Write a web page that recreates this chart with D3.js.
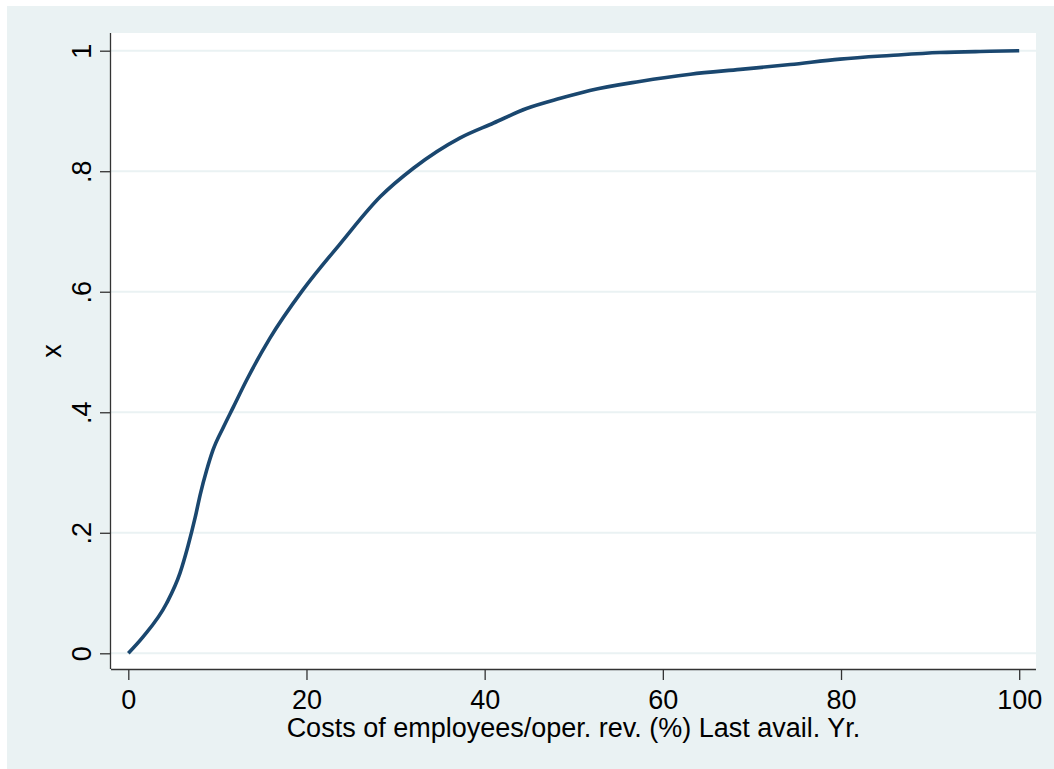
<!DOCTYPE html>
<html>
<head>
<meta charset="utf-8">
<script src="https://cdn.jsdelivr.net/npm/d3@7"></script>
<style>
  html, body { margin: 0; padding: 0; background: #ffffff; }
  svg { display: block; }
  text { font-family: "Liberation Sans", Arial, sans-serif; fill: #000; }
</style>
</head>
<body>
<svg id="chart" width="1054" height="769"></svg>
<script>
// ---- data ----
const costPct = [0, 1.7, 4.3, 5.8, 6.7, 7.5, 8.1, 8.8, 9.5, 10.7, 11.8, 13.3, 15.9, 19.6, 23.8, 28.3, 32.0, 37.2, 41.0, 44.7, 48.5, 51.8, 57.4, 63.1, 68.7, 74.3, 79.9, 85.5, 91.1, 96.7, 100];
const cumShare = [0, 0.028, 0.083, 0.133, 0.178, 0.225, 0.265, 0.304, 0.337, 0.376, 0.409, 0.454, 0.523, 0.603, 0.680, 0.758, 0.805, 0.855, 0.880, 0.904, 0.921, 0.934, 0.949, 0.961, 0.969, 0.977, 0.986, 0.992, 0.997, 0.999, 1.0];
const xTicks = [0, 20, 40, 60, 80, 100];
const yTicks = [0, 0.2, 0.4, 0.6, 0.8, 1];
const yTickLabels = ["0", ".2", ".4", ".6", ".8", "1"];
const xTitle = "Costs of employees/oper. rev. (%) Last avail. Yr.";
const yTitle = "x";

// ---- layout ----
const svg = d3.select("#chart");
const plot = { left: 111, right: 1036, top: 33, bottom: 669 };
const bg = "#EAF2F3";
const lineColor = "#1a476f";
const axisColor = "#333333";
const fontSize = 27;

svg.append("rect").attr("x", 7).attr("y", 6).attr("width", 1054 - 7).attr("height", 769 - 6).attr("fill", bg);
svg.append("rect").attr("x", plot.left).attr("y", plot.top)
  .attr("width", plot.right - plot.left).attr("height", plot.bottom - plot.top).attr("fill", "#ffffff");

const x = d3.scaleLinear().domain([0, 100]).range([128.3, 1019.2]);
const y = d3.scaleLinear().domain([0, 1]).range([653.3, 50.7]);

// grid lines
svg.append("g").selectAll("line").data(yTicks).join("line")
  .attr("x1", plot.left).attr("x2", plot.right)
  .attr("y1", d => y(d)).attr("y2", d => y(d))
  .attr("stroke", bg).attr("stroke-width", 2);

// curve
const pts = costPct.map((v, i) => [v, cumShare[i]]);
svg.append("path").datum(pts)
  .attr("fill", "none").attr("stroke", lineColor).attr("stroke-width", 3.6)
  .attr("stroke-linejoin", "round").attr("stroke-linecap", "butt")
  .attr("d", d3.line().x(d => x(d[0])).y(d => y(d[1])).curve(d3.curveMonotoneX));

// x axis
const xAxis = d3.axisBottom(x).tickValues(xTicks).tickSize(11).tickPadding(10).tickFormat(d3.format("d"));
const gx = svg.append("g").attr("transform", `translate(0,${plot.bottom})`).call(xAxis);
gx.select(".domain").attr("d", `M${plot.left},0.5H${plot.right}`).attr("stroke", axisColor).attr("stroke-width", 1.3);
gx.selectAll(".tick line").attr("stroke", axisColor).attr("stroke-width", 1.3);
gx.selectAll(".tick text").attr("font-size", fontSize).attr("font-family", "Liberation Sans, Arial, sans-serif").attr("fill", "#000");

// y axis
const yAxis = d3.axisLeft(y).tickValues(yTicks).tickSize(11).tickPadding(0).tickFormat((d, i) => yTickLabels[i]);
const gy = svg.append("g").attr("transform", `translate(${plot.left},0)`).call(yAxis);
gy.select(".domain").attr("d", `M-0.5,${plot.top}V${plot.bottom}`).attr("stroke", axisColor).attr("stroke-width", 1.3);
gy.selectAll(".tick line").attr("stroke", axisColor).attr("stroke-width", 1.3);
gy.selectAll(".tick text")
  .attr("x", null).attr("dy", null)
  .attr("transform", "translate(-20,0) rotate(-90)")
  .attr("text-anchor", "middle")
  .attr("font-size", fontSize).attr("font-family", "Liberation Sans, Arial, sans-serif").attr("fill", "#000");

// titles
svg.append("text").attr("x", (plot.left + plot.right) / 2).attr("y", 737)
  .attr("text-anchor", "middle").attr("font-size", fontSize).text(xTitle);
svg.append("text").attr("transform", `translate(61,${(plot.top + plot.bottom) / 2}) rotate(-90)`)
  .attr("text-anchor", "middle").attr("font-size", fontSize).text(yTitle);
</script>
</body>
</html>
